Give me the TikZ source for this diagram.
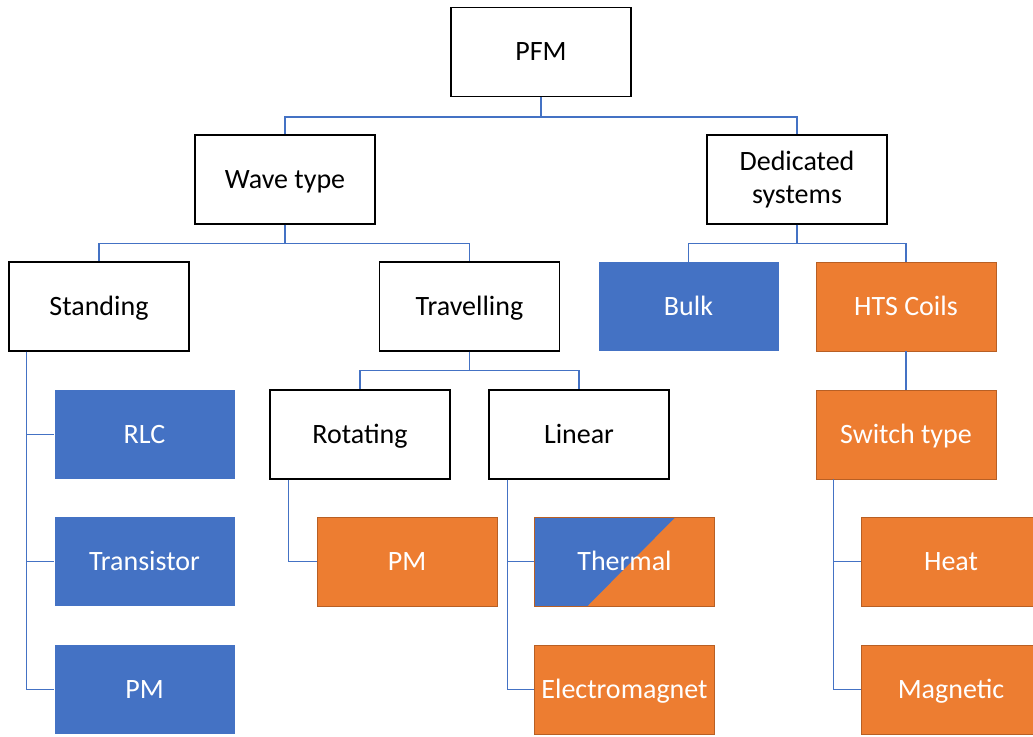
\documentclass[tikz,border=0pt]{standalone}
\usepackage{fontspec}
\setmainfont{Carlito}
\definecolor{accblue}{HTML}{4472C4}
\definecolor{accorange}{HTML}{ED7D31}
\definecolor{orangeedge}{HTML}{B85F24}
\begin{document}
\begin{tikzpicture}[x=1pt,y=-1pt,
  box/.style={rectangle,minimum width=180pt,minimum height=89pt,inner sep=0pt,
    text height=20pt,text depth=3pt,
    align=center,font=\fontsize{28}{33.5}\selectfont},
  twoline/.style={text height=,text depth=},
  plain/.style={box,draw=black,line width=1.3pt,fill=white},
  bluebox/.style={box,fill=accblue,text=white},
  orangebox/.style={box,fill=accorange,draw=orangeedge,line width=0.8pt,text=white},
  conn/.style={draw=accblue,line width=1.5pt}]
\useasboundingbox (0,0) rectangle (1033,736);

% level 0 and 1
\node[plain] (pfm) at (541,52) {PFM};
\node[plain] (wave) at (285,179.5) {Wave type};
\node[plain,twoline] (ded) at (797,179.5) {\vspace*{7pt}Dedicated\\systems};

% level 2
\node[plain] (stand) at (99,306.5) {Standing};
\node[plain] (trav) at (469.5,306.5) {Travelling};
\node[bluebox] (bulk) at (688.5,306.5) {Bulk};
\node[orangebox] (hts) at (906,306.5) {HTS Coils};

% level 3
\node[bluebox] (rlc) at (144.5,434.5) {RLC};
\node[plain] (rot) at (360,434.5) {Rotating};
\node[plain] (lin) at (579,434.5) {Linear};
\node[orangebox] (sw) at (906,434.5) {Switch type};

% level 4
\node[bluebox] (trans) at (144.5,561.5) {Transistor};
\node[orangebox] (pmr) at (407,561.5) {PM};
\node[orangebox,path picture={
    \fill[accblue] (path picture bounding box.north west)
      -- ([xshift=-39pt]path picture bounding box.north east)
      -- ([xshift=53pt]path picture bounding box.south west)
      -- (path picture bounding box.south west) -- cycle;}]
  (therm) at (624.5,561.5) {Thermal};
\node[orangebox] (heat) at (951,561.5) {Heat};

% level 5
\node[bluebox] (pms) at (144.5,689.5) {PM};
\node[orangebox] (elec) at (624.5,689.5) {Electromagnet};
\node[orangebox] (mag) at (951,689.5) {Magnetic};

% tree connectors
\draw[conn] (pfm.south) -- ++(0,20) -| (wave.north);
\draw[conn] (pfm.south) -- ++(0,20) -| (ded.north);
\draw[conn] (wave.south) -- ++(0,19) -| (stand.north);
\draw[conn] (wave.south) -- ++(0,19) -| (trav.north);
\draw[conn] (ded.south) -- ++(0,19) -| (bulk.north);
\draw[conn] (ded.south) -- ++(0,19) -| (hts.north);
\draw[conn] (trav.south) -- ++(0,19) -| (rot.north);
\draw[conn] (trav.south) -- ++(0,19) -| (lin.north);
\draw[conn] (hts.south) -- (sw.north);

% side branches
\draw[conn] ([xshift=18pt]stand.south west) |- (rlc.west);
\draw[conn] ([xshift=18pt]stand.south west) |- (trans.west);
\draw[conn] ([xshift=18pt]stand.south west) |- (pms.west);
\draw[conn] ([xshift=19pt]rot.south west) |- (pmr.west);
\draw[conn] ([xshift=19pt]lin.south west) |- (therm.west);
\draw[conn] ([xshift=19pt]lin.south west) |- (elec.west);
\draw[conn] ([xshift=18pt]sw.south west) |- (heat.west);
\draw[conn] ([xshift=18pt]sw.south west) |- (mag.west);
\end{tikzpicture}
\end{document}
